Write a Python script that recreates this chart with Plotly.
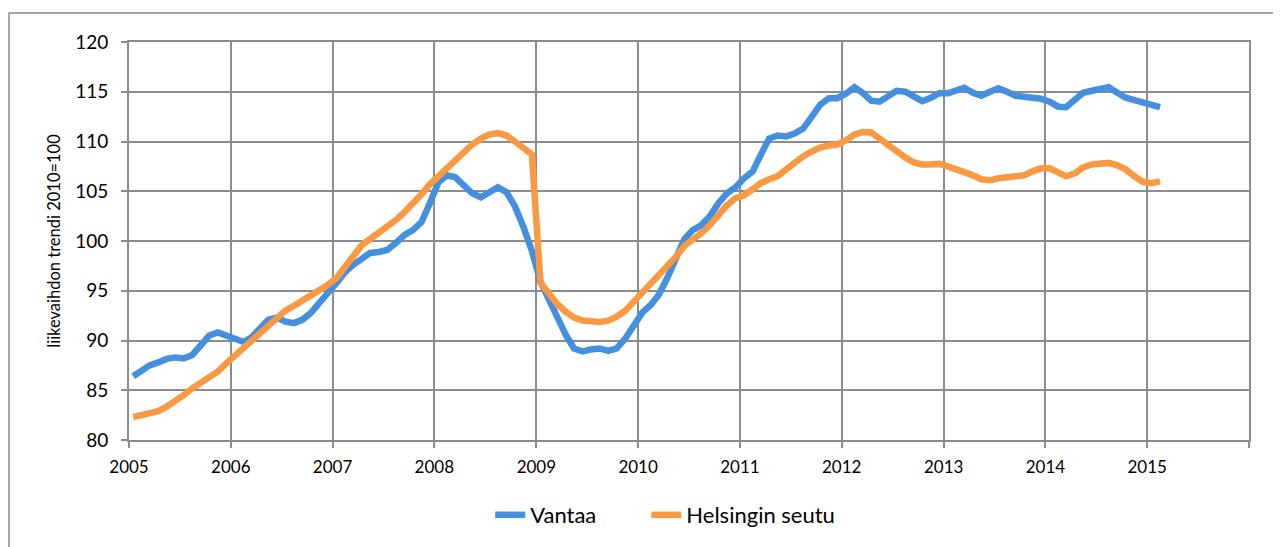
import pandas as pd
import plotly.graph_objects as go

# monthly observations, Jan 2005 .. Feb 2015
months = pd.date_range("2005-01-01", "2015-02-01", freq="MS") + pd.Timedelta(days=15)

vantaa = [
    86.4, 87.0, 87.5, 87.8, 88.15, 88.3, 88.2, 88.55, 89.6, 90.5, 90.8, 90.5,
    90.1, 89.85, 90.3, 91.2, 92.1, 92.3, 91.9, 91.75, 92.1, 92.8, 93.7, 94.8,
    95.8, 96.9, 97.6, 98.3, 98.8, 98.9, 99.1, 99.8, 100.6, 101.1, 101.9, 103.8,
    105.9, 106.6, 106.4, 105.6, 104.8, 104.4, 104.9, 105.4, 104.9, 103.5, 101.4, 99.0,
    95.9, 94.0, 92.3, 90.6, 89.2, 88.9, 89.1, 89.2, 88.95, 89.2, 90.2, 91.6,
    92.8, 93.6, 94.6, 96.3, 98.2, 100.2, 101.1, 101.6, 102.5, 103.8, 104.8, 105.4,
    106.3, 107.0, 108.6, 110.3, 110.6, 110.5, 110.8, 111.3, 112.5, 113.7, 114.35, 114.35,
    114.8, 115.45, 114.9, 114.1, 114.0, 114.5, 115.1, 115.0, 114.5, 114.05, 114.4, 114.85,
    114.85, 115.15, 115.4, 114.9, 114.6, 115.0, 115.35, 115.0, 114.6, 114.5, 114.45, 114.3,
    114.0, 113.5, 113.45, 114.2, 114.9, 115.1, 115.3, 115.45, 114.9, 114.4, 114.15, 113.9,
    113.65, 113.45,
]

helsingin_seutu = [
    82.3, 82.5, 82.65, 82.9, 83.35, 83.85, 84.5, 85.2, 85.8, 86.3, 86.9, 87.7,
    88.5, 89.2, 89.9, 90.7, 91.5, 92.3, 93.0, 93.5, 94.0, 94.5, 95.0, 95.6,
    96.3, 97.4, 98.6, 99.6, 100.2, 100.8, 101.5, 102.1, 102.9, 103.7, 104.7, 105.7,
    106.5, 107.3, 108.2, 109.0, 109.7, 110.3, 110.7, 110.85, 110.6, 110.0, 109.4, 108.7,
    95.8, 94.7, 93.7, 92.9, 92.3, 92.0, 91.9, 91.85, 92.0, 92.4, 93.0, 93.9,
    94.8, 95.6, 96.4, 97.3, 98.4, 99.5, 100.1, 100.8, 101.6, 102.7, 103.6, 104.3,
    104.6, 105.2, 105.8, 106.2, 106.5, 107.2, 107.9, 108.5, 109.0, 109.4, 109.6, 109.7,
    110.1, 110.7, 110.95, 110.9, 110.3, 109.6, 108.9, 108.4, 107.9, 107.7, 107.7, 107.75,
    107.5, 107.2, 107.0, 106.6, 106.2, 106.1, 106.3, 106.4, 106.5, 106.6, 107.0, 107.3,
    107.3, 106.9, 106.5, 106.8, 107.4, 107.7, 107.85, 107.85, 107.6, 107.2, 106.5, 105.95,
    105.8, 106.0,
]

year_ticks = [f"{y}-01-01" for y in range(2005, 2017)]
year_labels = [str(y) for y in range(2005, 2016)] + [""]

FONT = "Lato"
GRID = "#8c8c8c"
PAD = "\u00a0" * 8  # widens the gap between the two legend entries

fig = go.Figure()

fig.add_trace(go.Scatter(
    x=months, y=vantaa, name="Vantaa" + PAD, mode="lines",
    line=dict(color="#458fdf", width=6.5)
))
fig.add_trace(go.Scatter(
    x=months, y=helsingin_seutu, name="Helsingin seutu", mode="lines",
    line=dict(color="#f99a42", width=6.5)
))

# outer chart border (runs off the right and bottom edges)
fig.add_shape(
    type="rect", xref="paper", yref="paper",
    x0=-0.1071, x1=1.04, y0=-0.30, y1=1.0727,
    line=dict(color="#8a8a8a", width=1.5), layer="below"
)

# page body adds an 8px offset, so the figure is 8px smaller than the window
fig.update_layout(
    width=1273, height=539,
    margin=dict(l=121, r=32, t=34, b=106),
    plot_bgcolor="white", paper_bgcolor="white",
    font=dict(family=FONT, color="black"),
    showlegend=True,
    legend=dict(
        orientation="h", x=0.3225, xanchor="left", y=-0.1855, yanchor="middle",
        font=dict(size=22, family=FONT),
    ),
    xaxis=dict(
        type="date", range=["2005-01-01", "2016-01-01"],
        tickvals=year_ticks, ticktext=year_labels,
        showgrid=True, gridcolor=GRID, gridwidth=1.6,
        showline=True, linecolor=GRID, linewidth=1.6, mirror=True,
        ticks="outside", ticklen=6, tickcolor=GRID, tickwidth=1.6,
        tickfont=dict(size=17), ticklabelstandoff=5,
        zeroline=False,
    ),
    yaxis=dict(
        range=[80, 120], dtick=5,
        showgrid=True, gridcolor=GRID, gridwidth=1.6,
        showline=True, linecolor=GRID, linewidth=1.6, mirror=True,
        ticks="outside", ticklen=6, tickcolor=GRID, tickwidth=1.6,
        tickfont=dict(size=19), ticklabelstandoff=9,
        title=dict(text="liikevaihdon trendi 2010=100", font=dict(size=16.5), standoff=11),
        zeroline=False,
    ),
)

fig.write_html("out.html")
